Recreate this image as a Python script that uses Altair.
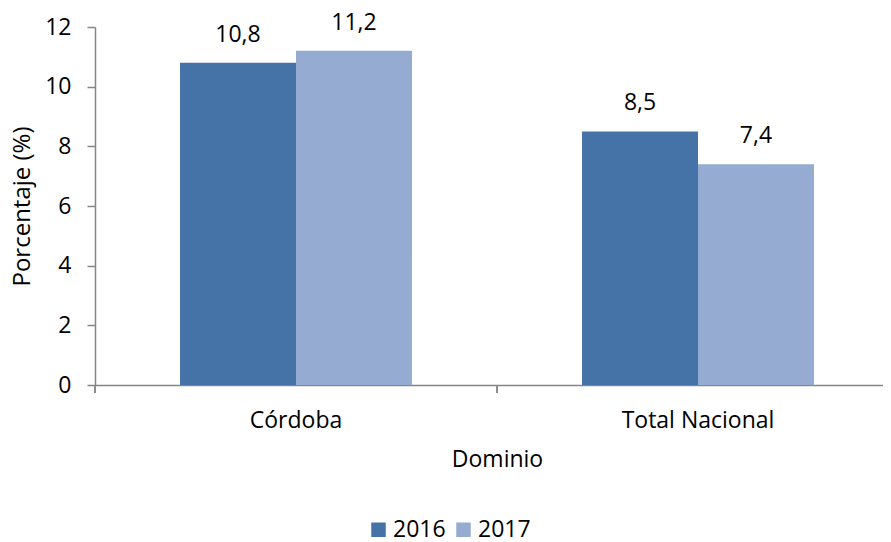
import altair as alt
import pandas as pd

dominios = ["Córdoba", "Córdoba", "Total Nacional", "Total Nacional"]
anios = ["2016", "2017", "2016", "2017"]
valores = [10.8, 11.2, 8.5, 7.4]

df = pd.DataFrame({"Dominio": dominios, "Año": anios, "Valor": valores})

FONT = "Open Sans"
FS = 23
colors = ["#4573a7", "#95abd2"]

x_enc = alt.X(
    "Dominio:N",
    title="Dominio",
    scale=alt.Scale(range=[0, 804], paddingInner=0, paddingOuter=0),
    axis=alt.Axis(
        labelAngle=0, ticks=False, tickSize=0, labelPadding=24, titlePadding=16,
        domainColor="#868686", domainWidth=1.5, labelFontSize=FS, titleFontSize=FS,
        labelFont=FONT, titleFont=FONT, labelColor="#000", titleColor="#000",
        titleFontWeight="normal",
    ),
)
xoff = alt.XOffset("Año:N", scale=alt.Scale(paddingOuter=0.733, paddingInner=0))

base = alt.Chart(df)

bars = base.mark_bar().encode(
    x=x_enc,
    xOffset=xoff,
    y=alt.Y(
        "Valor:Q",
        title="Porcentaje (%)",
        scale=alt.Scale(domain=[0, 12]),
        axis=alt.Axis(
            values=[0, 2, 4, 6, 8, 10, 12], grid=False, tickSize=8, labelPadding=16,
            domainColor="#868686", tickColor="#868686", domainWidth=1.5, tickWidth=1.5,
            labelFontSize=FS, titleFontSize=24, labelFont=FONT, titleFont=FONT,
            labelColor="#000", titleColor="#000", titleFontWeight="normal", titlePadding=10,
        ),
    ),
    color=alt.Color(
        "Año:N",
        scale=alt.Scale(domain=["2016", "2017"], range=colors),
        legend=alt.Legend(
            title=None, orient="none", direction="horizontal", legendX=272, legendY=491,
            symbolType="square", symbolSize=210, symbolStrokeWidth=0, labelFontSize=FS,
            labelFont=FONT, labelColor="#000", labelOffset=3, columnPadding=6, padding=0,
        ),
    ),
)

labels = base.mark_text(
    baseline="alphabetic", dy=-21, fontSize=FS, font=FONT, color="#000"
).transform_calculate(
    etiqueta="replace(format(datum.Valor, '.1f'), '.', ',')"
).encode(
    x=alt.X("Dominio:N", scale=alt.Scale(range=[0, 804], paddingInner=0, paddingOuter=0)),
    xOffset=xoff,
    y="Valor:Q",
    text="etiqueta:N",
)

ticks = base.mark_rule(color="#868686", strokeWidth=1.5).encode(
    x=alt.X("Dominio:N", bandPosition=0),
    y=alt.value(358),
    y2=alt.value(366),
)

chart = alt.layer(bars, labels, ticks).properties(
    width=788, height=358,
    autosize=alt.AutoSizeParams(type="none"),
    padding={"left": 87, "top": 19, "right": 0, "bottom": 157},
).configure_view(stroke=None)

chart.save("out.html", embed_options={"renderer": "svg", "actions": False})
